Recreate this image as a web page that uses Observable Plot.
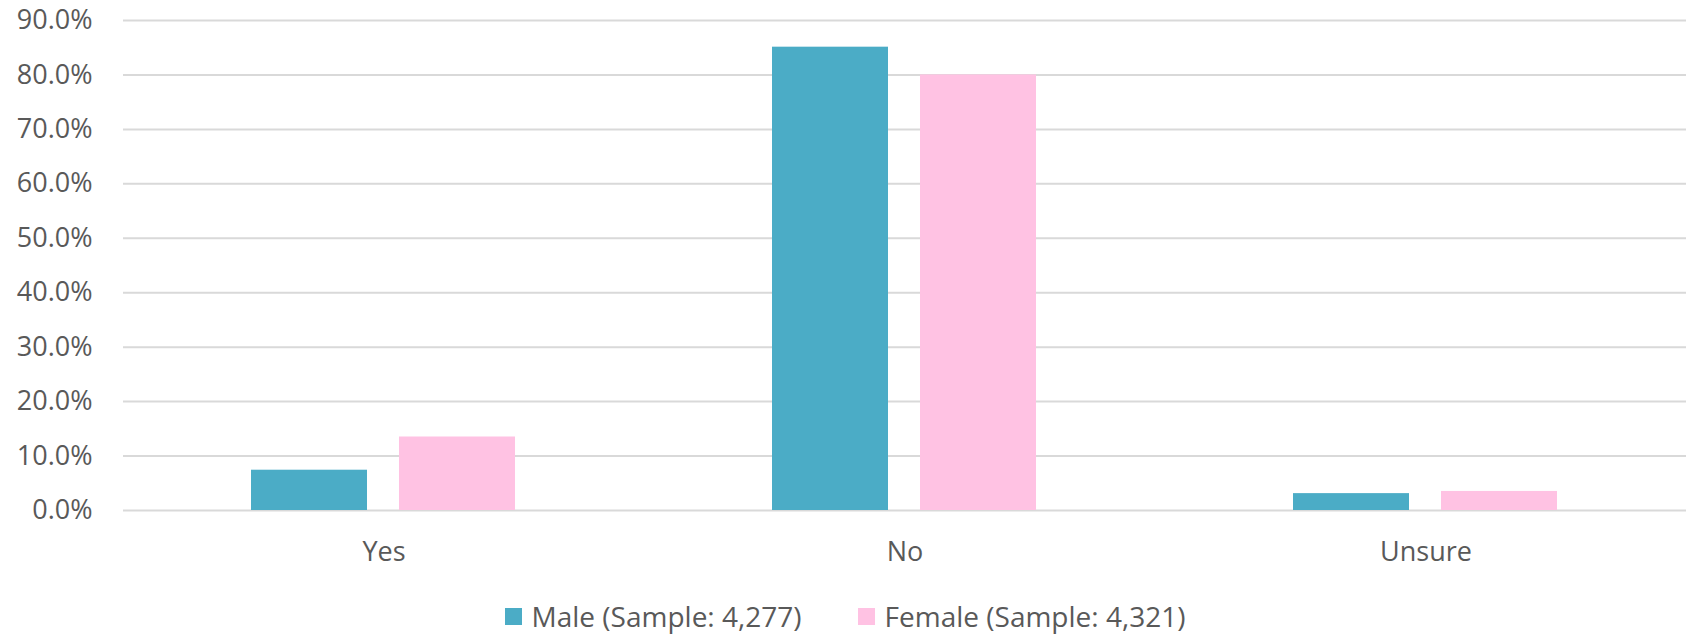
<!DOCTYPE html>
<html>
<head>
<meta charset="utf-8">
<script src="https://cdn.jsdelivr.net/npm/d3@7"></script>
<script src="https://cdn.jsdelivr.net/npm/@observablehq/plot@0.6"></script>
<style>
  html, body { margin: 0; padding: 0; background: #fff; }
  #chart { width: 1690px; }
  .legend { display: flex; justify-content: center; align-items: center; height: 52px;
            font-family: "Open Sans", sans-serif; font-size: 28px; color: #595959; }
  .item { display: flex; align-items: center; margin: 0 28px; }
  .sw { width: 17px; height: 17px; margin-right: 10px; }
</style>
</head>
<body>
<div id="chart"></div>
<script>
const categories = ["Yes", "No", "Unsure"];
const seriesNames = ["Male", "Female"];
const seriesLabels = ["Male (Sample: 4,277)", "Female (Sample: 4,321)"];
const maleValues = [7.4, 85.1, 3.1];
const femaleValues = [13.5, 80.0, 3.5];
const yTicks = [0, 10, 20, 30, 40, 50, 60, 70, 80, 90];
const colors = ["#4bacc6", "#ffc2e3"];

const rows = [];
categories.forEach((c, i) => {
  rows.push({category: c, series: seriesNames[0], value: maleValues[i]});
  rows.push({category: c, series: seriesNames[1], value: femaleValues[i]});
});

const chart = Plot.plot({
  width: 1690,
  height: 590,
  marginTop: 20,
  marginBottom: 80,
  marginLeft: 122,
  marginRight: 4,
  style: {fontFamily: "Open Sans, sans-serif", fontSize: "27px", color: "#595959", background: "#fff"},
  fx: {domain: categories, padding: 0, label: null},
  x: {domain: seriesNames, paddingInner: 0.215, paddingOuter: 0.857, axis: null},
  y: {domain: [0, 90], label: null},
  color: {domain: seriesNames, range: colors},
  marks: [
    Plot.ruleY(yTicks, {stroke: "#d9d9d9", strokeWidth: 2}),
    Plot.barY(rows, {fx: "category", x: "series", y: "value", fill: "series"}),
    Plot.axisY({ticks: yTicks, tickSize: 0, tickPadding: 31, tickFormat: d => d.toFixed(1) + "%", label: null, fill: "#595959"}),
    Plot.axisFx({anchor: "bottom", tickSize: 0, tickPadding: 31, label: null, fill: "#595959"})
  ]
});
document.getElementById("chart").appendChild(chart);

const legend = document.createElement("div");
legend.className = "legend";
seriesLabels.forEach((lab, i) => {
  const it = document.createElement("div");
  it.className = "item";
  const sw = document.createElement("div");
  sw.className = "sw";
  sw.style.background = colors[i];
  const tx = document.createElement("span");
  tx.textContent = lab;
  it.appendChild(sw); it.appendChild(tx);
  legend.appendChild(it);
});
document.getElementById("chart").appendChild(legend);
</script>
</body>
</html>
